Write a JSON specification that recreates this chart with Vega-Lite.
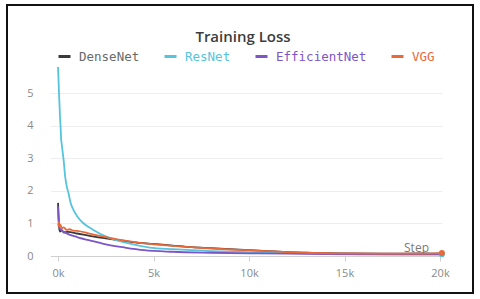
{
  "$schema": "https://vega.github.io/schema/vega-lite/v6.json",
  "width": 466,
  "height": 288,
  "autosize": {"type": "none"},
  "padding": {"left": 7, "top": 5, "right": 7, "bottom": 6},
  "background": "white",
  "config": {
    "view": {"stroke": "#111111", "strokeWidth": 2},
    "font": "Open Sans"
  },
  "title": {
    "text": "Training Loss",
    "orient": "top",
    "anchor": "middle",
    "frame": "group",
    "baseline": "alphabetic",
    "offset": -52,
    "dx": 3,
    "fontSize": 15,
    "fontWeight": 600,
    "font": "Open Sans",
    "color": "#3d3d3d"
  },
  "data": {
    "values": [
      {"s": "DenseNet", "step": 0, "loss": 1.63},
      {"s": "DenseNet", "step": 30, "loss": 1.2},
      {"s": "DenseNet", "step": 60, "loss": 0.86},
      {"s": "DenseNet", "step": 100, "loss": 0.75},
      {"s": "DenseNet", "step": 200, "loss": 0.79},
      {"s": "DenseNet", "step": 300, "loss": 0.72},
      {"s": "DenseNet", "step": 500, "loss": 0.74},
      {"s": "DenseNet", "step": 1000, "loss": 0.69},
      {"s": "DenseNet", "step": 1700, "loss": 0.61},
      {"s": "DenseNet", "step": 2500, "loss": 0.54},
      {"s": "DenseNet", "step": 3500, "loss": 0.46},
      {"s": "DenseNet", "step": 4300, "loss": 0.4},
      {"s": "DenseNet", "step": 5000, "loss": 0.37},
      {"s": "DenseNet", "step": 6000, "loss": 0.32},
      {"s": "DenseNet", "step": 7000, "loss": 0.27},
      {"s": "DenseNet", "step": 8000, "loss": 0.24},
      {"s": "DenseNet", "step": 9000, "loss": 0.21},
      {"s": "DenseNet", "step": 10000, "loss": 0.18},
      {"s": "DenseNet", "step": 11000, "loss": 0.15},
      {"s": "DenseNet", "step": 12000, "loss": 0.12},
      {"s": "DenseNet", "step": 13000, "loss": 0.1},
      {"s": "DenseNet", "step": 15000, "loss": 0.08},
      {"s": "DenseNet", "step": 17000, "loss": 0.07},
      {"s": "DenseNet", "step": 19000, "loss": 0.08},
      {"s": "DenseNet", "step": 20100, "loss": 0.07},
      {"s": "ResNet", "step": 0, "loss": 5.8},
      {"s": "ResNet", "step": 20, "loss": 5.5},
      {"s": "ResNet", "step": 50, "loss": 5.0},
      {"s": "ResNet", "step": 80, "loss": 4.6},
      {"s": "ResNet", "step": 100, "loss": 4.3},
      {"s": "ResNet", "step": 130, "loss": 4.0},
      {"s": "ResNet", "step": 160, "loss": 3.6},
      {"s": "ResNet", "step": 200, "loss": 3.4},
      {"s": "ResNet", "step": 250, "loss": 3.15},
      {"s": "ResNet", "step": 300, "loss": 2.9},
      {"s": "ResNet", "step": 370, "loss": 2.45},
      {"s": "ResNet", "step": 450, "loss": 2.15},
      {"s": "ResNet", "step": 540, "loss": 1.95},
      {"s": "ResNet", "step": 650, "loss": 1.65},
      {"s": "ResNet", "step": 800, "loss": 1.42},
      {"s": "ResNet", "step": 1000, "loss": 1.22},
      {"s": "ResNet", "step": 1300, "loss": 1.02},
      {"s": "ResNet", "step": 1850, "loss": 0.8},
      {"s": "ResNet", "step": 2500, "loss": 0.6},
      {"s": "ResNet", "step": 3600, "loss": 0.4},
      {"s": "ResNet", "step": 4800, "loss": 0.26},
      {"s": "ResNet", "step": 6000, "loss": 0.21},
      {"s": "ResNet", "step": 7000, "loss": 0.18},
      {"s": "ResNet", "step": 8500, "loss": 0.14},
      {"s": "ResNet", "step": 10000, "loss": 0.12},
      {"s": "ResNet", "step": 12000, "loss": 0.09},
      {"s": "ResNet", "step": 14000, "loss": 0.07},
      {"s": "ResNet", "step": 16000, "loss": 0.06},
      {"s": "ResNet", "step": 18000, "loss": 0.05},
      {"s": "ResNet", "step": 20100, "loss": 0.05},
      {"s": "EfficientNet", "step": 0, "loss": 1.52},
      {"s": "EfficientNet", "step": 20, "loss": 1.2},
      {"s": "EfficientNet", "step": 50, "loss": 0.95},
      {"s": "EfficientNet", "step": 100, "loss": 0.84},
      {"s": "EfficientNet", "step": 200, "loss": 0.78},
      {"s": "EfficientNet", "step": 300, "loss": 0.74},
      {"s": "EfficientNet", "step": 500, "loss": 0.68},
      {"s": "EfficientNet", "step": 1000, "loss": 0.58},
      {"s": "EfficientNet", "step": 1700, "loss": 0.47},
      {"s": "EfficientNet", "step": 2500, "loss": 0.36},
      {"s": "EfficientNet", "step": 3500, "loss": 0.26},
      {"s": "EfficientNet", "step": 4500, "loss": 0.18},
      {"s": "EfficientNet", "step": 6000, "loss": 0.13},
      {"s": "EfficientNet", "step": 8000, "loss": 0.1},
      {"s": "EfficientNet", "step": 10000, "loss": 0.08},
      {"s": "EfficientNet", "step": 12000, "loss": 0.07},
      {"s": "EfficientNet", "step": 14000, "loss": 0.06},
      {"s": "EfficientNet", "step": 16000, "loss": 0.05},
      {"s": "EfficientNet", "step": 18000, "loss": 0.05},
      {"s": "EfficientNet", "step": 20100, "loss": 0.05},
      {"s": "VGG", "step": 0, "loss": 1.0},
      {"s": "VGG", "step": 20, "loss": 0.92},
      {"s": "VGG", "step": 50, "loss": 1.05},
      {"s": "VGG", "step": 80, "loss": 0.9},
      {"s": "VGG", "step": 120, "loss": 0.96},
      {"s": "VGG", "step": 200, "loss": 0.85},
      {"s": "VGG", "step": 300, "loss": 0.88},
      {"s": "VGG", "step": 450, "loss": 0.8},
      {"s": "VGG", "step": 600, "loss": 0.82},
      {"s": "VGG", "step": 800, "loss": 0.78},
      {"s": "VGG", "step": 1000, "loss": 0.77},
      {"s": "VGG", "step": 1700, "loss": 0.68},
      {"s": "VGG", "step": 2500, "loss": 0.58},
      {"s": "VGG", "step": 3500, "loss": 0.47},
      {"s": "VGG", "step": 4300, "loss": 0.4},
      {"s": "VGG", "step": 5000, "loss": 0.36},
      {"s": "VGG", "step": 6000, "loss": 0.31},
      {"s": "VGG", "step": 7000, "loss": 0.27},
      {"s": "VGG", "step": 8000, "loss": 0.23},
      {"s": "VGG", "step": 9000, "loss": 0.2},
      {"s": "VGG", "step": 10000, "loss": 0.18},
      {"s": "VGG", "step": 11000, "loss": 0.15},
      {"s": "VGG", "step": 12000, "loss": 0.12},
      {"s": "VGG", "step": 13000, "loss": 0.1},
      {"s": "VGG", "step": 15000, "loss": 0.08},
      {"s": "VGG", "step": 17000, "loss": 0.07},
      {"s": "VGG", "step": 19000, "loss": 0.07},
      {"s": "VGG", "step": 20100, "loss": 0.09}
    ]
  },
  "encoding": {
    "x": {
      "field": "step",
      "type": "quantitative",
      "scale": {"domain": [-400, 20100], "range": [43.4, 434.9], "nice": false, "zero": false},
      "axis": {
        "values": [0, 5000, 10000, 15000, 20000],
        "format": "~s",
        "offset": -37,
        "grid": false,
        "domainColor": "#d0d0d0",
        "tickColor": "#d0d0d0",
        "tickSize": 5,
        "labelPadding": 6,
        "labelColor": "#8a8a8a",
        "labelFontSize": 11,
        "labelFont": "Open Sans",
        "title": "Step",
        "titleX": 409,
        "titleY": -5,
        "titleAlign": "center",
        "titleBaseline": "alphabetic",
        "titleColor": "#7a7a7a",
        "titleFontSize": 12,
        "titleFontWeight": "normal",
        "titleFont": "Open Sans"
      }
    },
    "y": {
      "field": "loss",
      "type": "quantitative",
      "scale": {"domain": [0, 6], "range": [251, 55.4], "nice": false},
      "axis": {
        "values": [0, 1, 2, 3, 4, 5],
        "offset": -43,
        "domain": false,
        "ticks": false,
        "labelPadding": 17,
        "labelColor": "#8a8a8a",
        "labelFontSize": 11,
        "labelFont": "Open Sans",
        "gridColor": "#eeeeee",
        "title": null
      }
    },
    "color": {
      "field": "s",
      "type": "nominal",
      "scale": {
        "domain": ["DenseNet", "ResNet", "EfficientNet", "VGG"],
        "range": ["#3a3a3a", "#55c4dc", "#7d56c6", "#e8693a"]
      },
      "legend": {
        "title": null,
        "orient": "none",
        "direction": "horizontal",
        "legendX": 50,
        "legendY": 44,
        "columnPadding": 18,
        "labelOffset": 7,
        "symbolType": "stroke",
        "symbolSize": 144,
        "symbolStrokeWidth": 3,
        "labelFont": "DejaVu Sans Mono",
        "labelFontSize": 12.5,
        "encode": {
          "labels": {
            "update": {
              "fill": {"signal": "datum.value === 'DenseNet' ? '#6a6a6a' : scale('color', datum.value)"}
            }
          }
        }
      }
    }
  },
  "layer": [
    {
      "mark": {"type": "line", "strokeWidth": 1.8, "interpolate": "monotone"}
    },
    {
      "transform": [
        {"filter": {"field": "step", "equal": 20100}},
        {"filter": {"field": "s", "oneOf": ["ResNet", "VGG"]}}
      ],
      "mark": {"type": "point", "filled": true, "size": 36, "opacity": 1}
    }
  ]
}
